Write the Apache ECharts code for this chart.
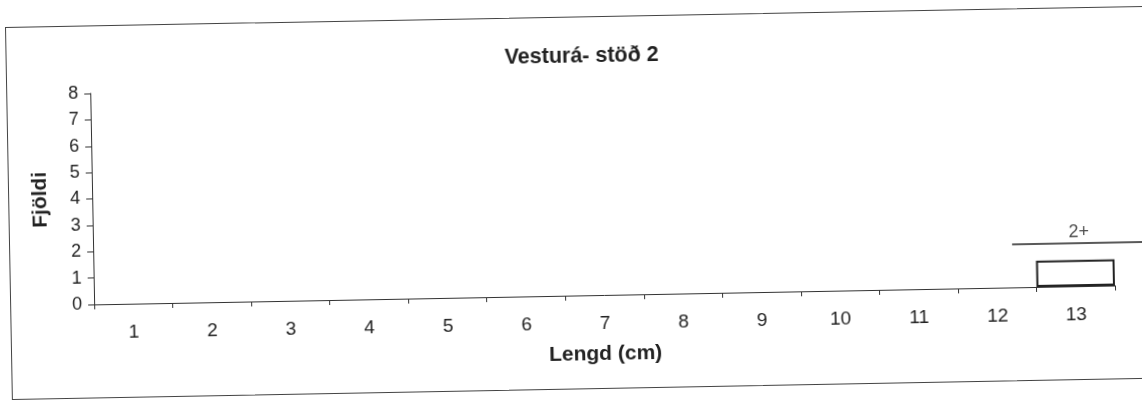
<!DOCTYPE html>
<html>
<head>
<meta charset="utf-8">
<script src="https://cdn.jsdelivr.net/npm/echarts@6/dist/echarts.min.js"></script>
<style>
  html, body { margin: 0; padding: 0; background: #fff; overflow: hidden; width: 1142px; height: 401px; }
  #frame {
    position: absolute; left: 5px; top: 27px;
    width: 1180px; height: 371px;
    border: 1px solid #444;
    transform: rotate(-1.06deg); transform-origin: 0 0;
    background: #fff;
  }
  #chart { width: 1180px; height: 371px; }
</style>
</head>
<body>
<div id="frame"><div id="chart"></div></div>
<script>
// Lengdardreifing: fjöldi fiska eftir lengd (cm)
const lengths = ['1','2','3','4','5','6','7','8','9','10','11','12','13'];
const counts  = [0, 0, 0, 0, 0, 0, 0, 0, 0, 0, 0, 0, 1];
const yTicks  = [0, 1, 2, 3, 4, 5, 6, 7, 8];

// Aldurshópur merktur með línu yfir súlunum (lengd í cm, hæð í fjölda)
const ageLabel = '2+';
const ageFromCm = 12.2;
const ageToCm = 13.9;
const ageLevel = 1.63;

const ink = '#222';
const font = 'Liberation Sans';
const plotLeft = 83, plotTop = 67, plotWidth = 1021, plotHeight = 211;
// second, wider grid on the same scale so the age line can run past the last bar
const stretch = 1.06;

const chart = echarts.init(document.getElementById('chart'), null, { renderer: 'canvas' });

chart.setOption({
  animation: false,
  title: {
    text: 'Vesturá- stöð 2',
    left: 570, top: 23, textAlign: 'center',
    textStyle: { fontFamily: font, fontWeight: 'bold', fontSize: 21.5, color: ink }
  },
  grid: [
    { left: plotLeft, top: plotTop, width: plotWidth, height: plotHeight },
    { left: plotLeft, top: plotTop, width: plotWidth * stretch, height: plotHeight }
  ],
  xAxis: [{
    type: 'category',
    gridIndex: 0,
    data: lengths,
    name: 'Lengd (cm)',
    nameLocation: 'middle',
    nameGap: 49,
    nameTextStyle: { fontFamily: font, fontWeight: 'bold', fontSize: 21, color: ink },
    axisLine: { lineStyle: { color: '#333', width: 1 } },
    axisTick: { show: true, length: 5, alignWithLabel: false, lineStyle: { color: '#333' } },
    axisLabel: { margin: 19, fontFamily: font, fontSize: 19, color: ink },
    splitLine: { show: false }
  }, {
    type: 'value',
    gridIndex: 1,
    show: false,
    min: 0.5, max: 0.5 + lengths.length * stretch
  }],
  yAxis: [{
    type: 'value',
    gridIndex: 0,
    min: yTicks[0], max: yTicks[yTicks.length - 1], interval: 1,
    name: 'Fjöldi',
    nameLocation: 'middle',
    nameRotate: 90,
    nameGap: 41,
    nameTextStyle: { fontFamily: font, fontWeight: 'bold', fontSize: 21, color: ink },
    axisLine: { show: true, lineStyle: { color: '#333', width: 1 } },
    axisTick: { show: true, inside: false, length: 6, lineStyle: { color: '#333' } },
    axisLabel: { margin: 12, fontFamily: font, fontSize: 18, color: ink },
    splitLine: { show: false }
  }, {
    type: 'value',
    gridIndex: 1,
    show: false,
    min: yTicks[0], max: yTicks[yTicks.length - 1]
  }],
  series: [{
    name: 'Fjöldi',
    type: 'bar',
    xAxisIndex: 0, yAxisIndex: 0,
    barWidth: '100%',
    data: counts.map(v => v === 0 ? { value: 0, itemStyle: { borderWidth: 0 } } : v),
    itemStyle: { color: '#fff', borderColor: '#222', borderWidth: 2 }
  }, {
    name: 'Aldur',
    type: 'line',
    xAxisIndex: 1, yAxisIndex: 1,
    clip: false,
    symbol: 'none',
    silent: true,
    lineStyle: { color: '#222', width: 1.6 },
    data: [[ageFromCm, ageLevel], [ageToCm, ageLevel]]
  }, {
    name: 'Aldursmerki',
    type: 'scatter',
    xAxisIndex: 1, yAxisIndex: 1,
    clip: false,
    symbolSize: 0,
    silent: true,
    label: {
      show: true, position: 'top', distance: 2,
      formatter: ageLabel,
      fontFamily: font, fontSize: 18, color: ink
    },
    data: [[(ageFromCm + ageToCm) / 2, ageLevel]]
  }]
});
</script>
</body>
</html>
